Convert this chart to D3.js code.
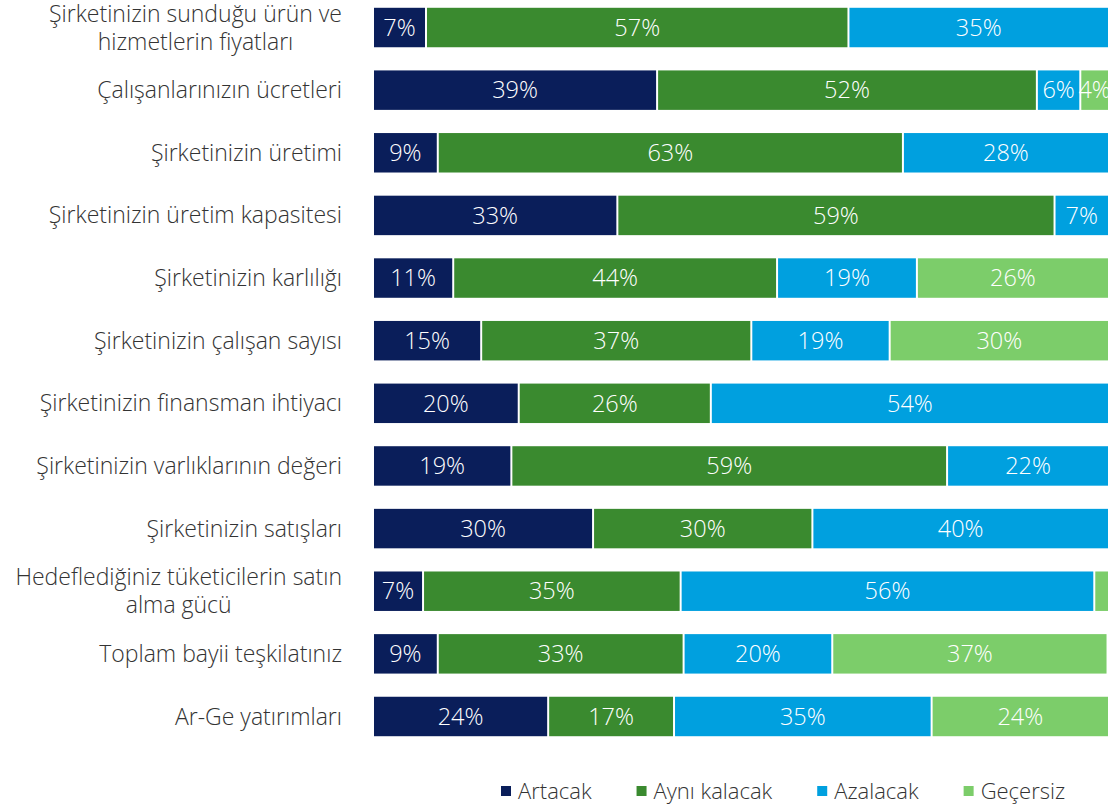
<html>
<head>
<script src="https://d3js.org/d3.v7.min.js"></script>
<style>
  body { margin: 0; background: #fff; }
  svg text { font-family: "Open Sans", "Noto Sans", sans-serif; }
</style>
</head>
<body>
<div id="chart"></div>
<script>
// questions (two-line ones split with \n)
var categories = [
  "Şirketinizin sunduğu ürün ve\nhizmetlerin fiyatları",
  "Çalışanlarınızın ücretleri",
  "Şirketinizin üretimi",
  "Şirketinizin üretim kapasitesi",
  "Şirketinizin karlılığı",
  "Şirketinizin çalışan sayısı",
  "Şirketinizin finansman ihtiyacı",
  "Şirketinizin varlıklarının değeri",
  "Şirketinizin satışları",
  "Hedeflediğiniz tüketicilerin satın\nalma gücü",
  "Toplam bayii teşkilatınız",
  "Ar-Ge yatırımları"
]

var seriesNames = ["Artacak", "Aynı kalacak", "Azalacak", "Geçersiz"]
var seriesColors = ["#0a1e5a", "#3a8a2f", "#00a0df", "#7ccd6a"]

// % values per series
var artacak     = [7.2, 38.6,  8.8, 33.2, 10.9, 14.7, 19.8, 18.8, 29.9,  6.8,  8.8, 23.8]
var ayniKalacak = [57.4, 51.6, 63.2, 59.4, 44.0, 36.7, 26.1, 59.2, 29.8, 35.0, 33.4, 17.1]
var azalacak    = [35.4,  5.9, 28.0,  7.4, 19.0, 18.8, 54.1, 22.0, 40.3, 56.2, 20.2, 35.0]
var gecersiz    = [ 0,    3.9,  0,    0,   26.1, 29.8,  0,    0,    0,    2.0, 37.4, 24.1]

var width = 1110, height = 809

var svg = d3.select("#chart").append("svg")
    .attr("width", width)
    .attr("height", height)

var x = d3.scaleLinear().domain([0, 100]).range([374, 1110])
var y = d3.scaleBand().domain(categories).range([-3.8, 747.8])
    .paddingInner(0.37).paddingOuter(0.185)

var rows = categories.map(function(c, i) {
    return {cat: c, values: [artacak[i], ayniKalacak[i], azalacak[i], gecersiz[i]]}
})

var stack = d3.stack().keys([0, 1, 2, 3]).value(function(d, k) { return d.values[k] })
var layers = stack(rows)

var g = svg.selectAll("g.layer")
    .data(layers)
    .join("g")
    .attr("class", "layer")
    .attr("fill", function(d, i) { return seriesColors[i] })

g.selectAll("rect")
    .data(function(d) { return d })
    .join("rect")
    .attr("x", function(d) { return x(d[0]) })
    .attr("y", function(d) { return y(d.data.cat) })
    .attr("width", function(d) { return Math.max(0, x(d[1]) - x(d[0]) - 2) })
    .attr("height", y.bandwidth())

// value labels inside segments
g.selectAll("text")
    .data(function(d) { return d.filter(function(s) { return x(s[1]) - x(s[0]) > 20 }) })
    .join("text")
    .attr("x", function(d) { return (x(d[0]) + x(d[1]) - 2) / 2 })
    .attr("y", function(d) { return y(d.data.cat) + y.bandwidth() / 2 })
    .attr("dy", "0.35em")
    .attr("text-anchor", "middle")
    .attr("fill", "#fff")
    .attr("font-size", 23.5)
    .attr("font-weight", 300)
    .text(function(d) { return Math.round(d[1] - d[0]) + "%" })

// category labels
var labelRight = 342
categories.forEach(function(c) {
    var lines = c.split("\n")
    var cy = y(c) + y.bandwidth() / 2
    var t = svg.append("text")
        .attr("fill", "#333")
        .attr("font-size", 23)
        .attr("font-weight", 300)
    lines.forEach(function(l, j) {
        t.append("tspan")
            .attr("y", cy + (j - (lines.length - 1) / 2) * 28)
            .attr("dy", "0.35em")
            .text(l)
    })
    if (lines.length == 1) {
        t.attr("text-anchor", "end").selectAll("tspan").attr("x", labelRight)
    } else {
        var maxW = 0
        t.selectAll("tspan").each(function() { maxW = Math.max(maxW, this.getComputedTextLength()) })
        t.attr("text-anchor", "middle").selectAll("tspan").attr("x", labelRight - maxW / 2)
    }
})

// legend
var lx = 501
seriesNames.forEach(function(name, i) {
    svg.append("rect")
        .attr("x", lx).attr("y", 786)
        .attr("width", 10).attr("height", 10)
        .attr("fill", seriesColors[i])
    var t = svg.append("text")
        .attr("x", lx + 17).attr("y", 791)
        .attr("dy", "0.35em")
        .attr("fill", "#333")
        .attr("font-size", 22)
        .attr("font-weight", 300)
        .text(name)
    lx += 17 + t.node().getComputedTextLength() + 45
})
</script>
</body>
</html>
